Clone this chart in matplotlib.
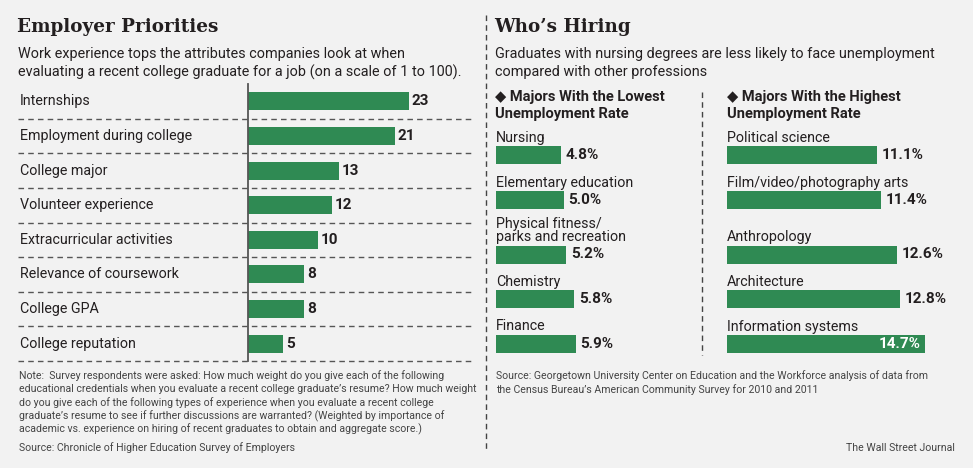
import matplotlib.pyplot as plt
from matplotlib import transforms
from matplotlib.lines import Line2D

W, H = 973, 468
BG = '#f2f2f2'
GREEN = '#2f8a53'
INK = '#231f20'
GREY = '#444444'

# employer priorities (score on a 1 to 100 scale)
priorities = ['Internships', 'Employment during college', 'College major',
              'Volunteer experience', 'Extracurricular activities',
              'Relevance of coursework', 'College GPA', 'College reputation']
priority_scores = [23, 21, 13, 12, 10, 8, 8, 5]

# unemployment rate by major, %
low_majors = ['Nursing', 'Elementary education', 'Physical fitness/\nparks and recreation',
              'Chemistry', 'Finance']
low_rates = [4.8, 5.0, 5.2, 5.8, 5.9]
high_majors = ['Political science', 'Film/video/photography arts', 'Anthropology',
               'Architecture', 'Information systems']
high_rates = [11.1, 11.4, 12.6, 12.8, 14.7]

note_lines = [
    'Note:  Survey respondents were asked: How much weight do you give each of the following',
    'educational credentials when you evaluate a recent college graduate\u2019s resume? How much weight',
    'do you give each of the following types of experience when you evaluate a recent college',
    'graduate\u2019s resume to see if further discussions are warranted? (Weighted by importance of',
    'academic vs. experience on hiring of recent graduates to obtain and aggregate score.)',
]
source_left = 'Source: Chronicle of Higher Education Survey of Employers'
source_right = ['Source: Georgetown University Center on Education and the Workforce analysis of data from',
                'the Census Bureau\u2019s American Community Survey for 2010 and 2011']

BODY = ['Roboto', 'DejaVu Sans']
SERIF = ['DejaVu Serif']
NOTE_SIZE = 7.6


def fx(x):
    return x / W


def fy(y):
    return 1 - y / H


def dashed(x0, y0, x1, y1):
    fig.add_artist(Line2D([fx(x0), fx(x1)], [fy(y0), fy(y1)], transform=fig.transFigure,
                          ls=(0, (4, 3)), color=GREY, lw=1))


fig = plt.figure(figsize=(W / 100, H / 100), dpi=100)
fig.patch.set_facecolor(BG)

# ---- left panel: Employer Priorities
fig.text(fx(17), fy(27), 'Employer Priorities', family=SERIF, fontweight='bold',
         fontsize=13.2, color=INK, va='center')
fig.text(fx(18), fy(54), 'Work experience tops the attributes companies look at when',
         family=BODY, fontsize=10.4, color=INK, va='center')
fig.text(fx(18), fy(72), 'evaluating a recent college graduate for a job (on a scale of 1 to 100).',
         family=BODY, fontsize=10.4, color=INK, va='center')

ax = fig.add_axes([fx(248), fy(361), (475 - 248) / W, (361 - 84) / H])
ax.set_facecolor('none')
n = len(priorities)
ax.barh(range(n), priority_scores, height=0.52, color=GREEN)
ax.set_ylim(n - 0.5, -0.5)
ax.set_xlim(0, (475 - 248) / 7)
for s in ['top', 'right', 'bottom']:
    ax.spines[s].set_visible(False)
ax.spines['left'].set_color('#555555')
ax.spines['left'].set_linewidth(1.3)
ax.set_xticks([])
ax.set_yticks([])

tr = transforms.blended_transform_factory(fig.transFigure, ax.transData)
for i, (lab, v) in enumerate(zip(priorities, priority_scores)):
    ax.text(fx(20), i, lab, transform=tr, va='center', ha='left', family=BODY,
            fontsize=10.3, color=INK)
    ax.text(v + 0.4, i, str(v), va='center', ha='left', family=BODY,
            fontweight='bold', fontsize=11, color=INK)
    ax.plot([fx(18), fx(474)], [i + 0.5, i + 0.5], transform=tr, ls=(0, (4, 3)),
            color='#555555', lw=1, clip_on=False)

for k, line in enumerate(note_lines):
    fig.text(fx(19), fy(376 + 13.3 * k), line, family=BODY, fontsize=NOTE_SIZE,
             color=GREY, va='center')
fig.text(fx(19), fy(448), source_left, family=BODY, fontsize=NOTE_SIZE, color=GREY, va='center')

# ---- right panel: Who's Hiring
dashed(486, 15, 486, 452)
dashed(702, 92, 702, 355)

fig.text(fx(494), fy(27), 'Who\u2019s Hiring', family=SERIF, fontweight='bold',
         fontsize=13.2, color=INK, va='center')
fig.text(fx(495), fy(54), 'Graduates with nursing degrees are less likely to face unemployment',
         family=BODY, fontsize=10.4, color=INK, va='center')
fig.text(fx(495), fy(72), 'compared with other professions',
         family=BODY, fontsize=10.4, color=INK, va='center')

for x0, head in [(495, 'Lowest'), (727, 'Highest')]:
    fig.text(fx(x0), fy(97), '\u25c6 Majors With the ' + head, family=BODY,
             fontweight='bold', fontsize=10.5, color=INK, va='center')
    fig.text(fx(x0), fy(114), 'Unemployment Rate', family=BODY,
             fontweight='bold', fontsize=10.5, color=INK, va='center')

# row offsets (px from top of the column axes), two-line labels push rows down
row_y = []
y = 30
for lab in low_majors:
    y += 10.5 * lab.count('\n')
    row_y.append(y)
    y += 44.5

px_per_pt = 13.5
for x0, x1, majors, rates in [(496, 700, low_majors, low_rates),
                              (727, 960, high_majors, high_rates)]:
    width = x1 - x0
    cax = fig.add_axes([fx(x0), fy(360), width / W, 235 / H])
    cax.axis('off')
    cax.set_xlim(0, width / px_per_pt)
    cax.set_ylim(235, 0)
    cax.barh(row_y, rates, height=18, color=GREEN)
    for yy, lab, v in zip(row_y, majors, rates):
        cax.text(0, yy - 10, lab, va='bottom', ha='left', family=BODY, fontsize=10.3,
                 color=INK, linespacing=0.95)
        lbl = f'{v:.1f}%'
        if v * px_per_pt + 52 > width:
            cax.text(v - 0.35, yy, lbl, va='center', ha='right', family=BODY,
                     fontweight='bold', fontsize=11, color='white')
        else:
            cax.text(v + 0.35, yy, lbl, va='center', ha='left', family=BODY,
                     fontweight='bold', fontsize=11, color=INK)

for k, line in enumerate(source_right):
    fig.text(fx(496), fy(376 + 13.3 * k), line, family=BODY, fontsize=NOTE_SIZE,
             color=GREY, va='center')
fig.text(fx(955), fy(448), 'The Wall Street Journal', family=BODY, fontsize=NOTE_SIZE,
         color=GREY, va='center', ha='right')

fig.savefig('out.png', dpi=100, facecolor=BG)
